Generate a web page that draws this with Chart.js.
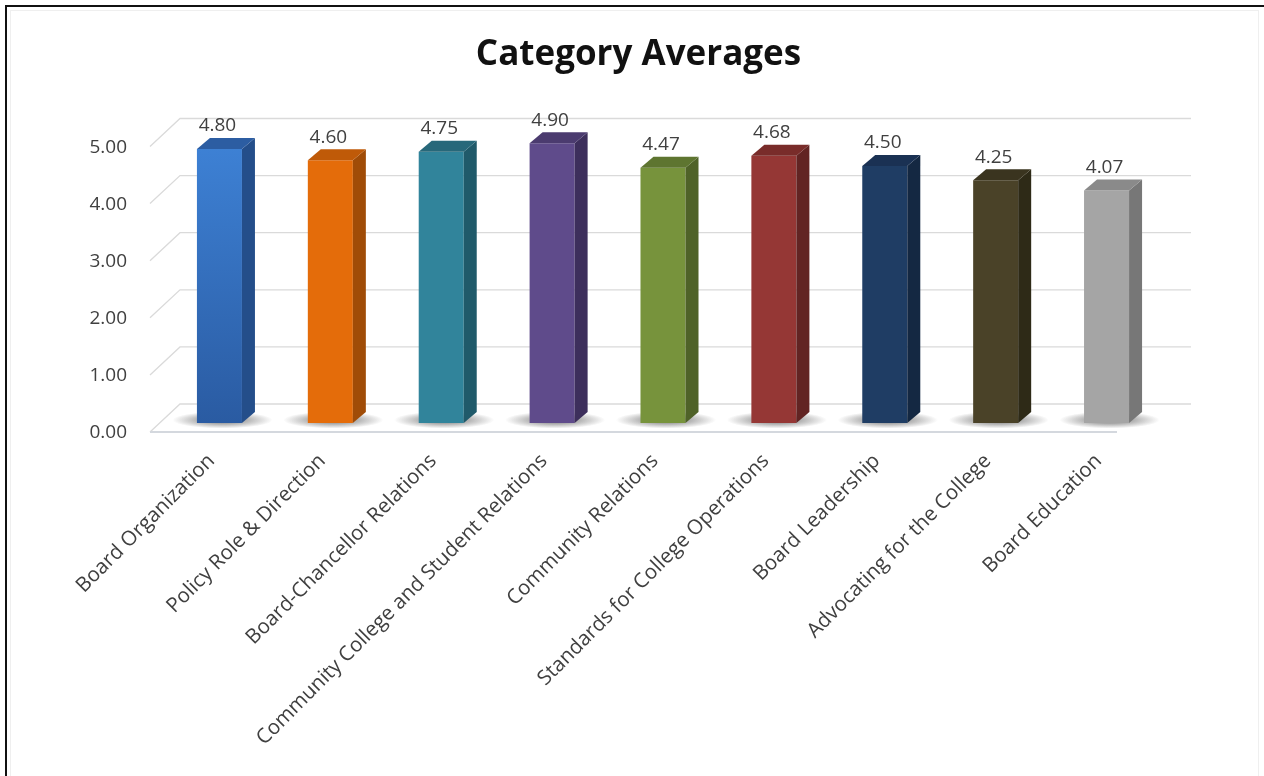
<!DOCTYPE html>
<html>
<head>
<meta charset="utf-8">
<title>Category Averages</title>
<script src="https://cdn.jsdelivr.net/npm/chart.js@4.4.1/dist/chart.umd.min.js"></script>
<style>
  html, body { margin:0; padding:0; background:#fff; overflow:hidden; }
  .frame { position:absolute; left:5px; top:5px; width:1300px; height:900px; border:2px solid #111; box-sizing:border-box; }
  .inner { position:absolute; left:10px; top:10px; width:1247px; height:900px; border:1px solid #efefef; }
  #wrap { position:absolute; left:0; top:0; width:1264px; height:776px; }
</style>
</head>
<body>
<div class="frame"></div>
<div class="inner"></div>
<div id="wrap"><canvas id="avgChart" width="1264" height="776"></canvas></div>
<script>
// ── Data ───────────────────────────────────────
const categories = [
  'Board Organization', 'Policy Role & Direction', 'Board-Chancellor Relations',
  'Community College and Student Relations', 'Community Relations',
  'Standards for College Operations', 'Board Leadership',
  'Advocating for the College', 'Board Education'
];
const averages = [4.80, 4.60, 4.75, 4.90, 4.47, 4.68, 4.50, 4.25, 4.07];
const yTicks   = [0, 1, 2, 3, 4, 5];

// ── Colours (front / side / top of each bar) ───
const frontColors = ['#3a78c9','#e46c0a','#31849b','#5f4b8b','#77933c','#953735','#1f3d64','#4a4228','#a5a5a5'];
const sideColors  = ['#244e8a','#a04c07','#205a6a','#3d2f5c','#4f6228','#622423','#142842','#2e2a17','#777777'];
const topColors   = ['#2c5da2','#bf5a08','#27687a','#4b3b6f','#5e7530','#792c2a','#1a3153','#3a341f','#8a8a8a'];

const FONT = '"Open Sans", Carlito, Calibri, sans-serif';
const TEXT = '#404040';

// ── 3D look ────────────────────────────────────
const DEPTH_X = 13, DEPTH_Y = 11;   // bar side / top depth
const WALL_X = 30, WALL_Y = 28;     // floor depth, front edge to back wall
const FRONT_DY = 9;                 // front edge sits a bit lower than the bars

const bar3d = {
  id: 'bar3d',
  beforeDatasetsDraw(chart) {
    const { ctx, chartArea: a, scales: { y } } = chart;
    ctx.save();

    // back wall gridlines + left wall diagonals
    ctx.strokeStyle = '#dadada';
    ctx.lineWidth = 1.3;
    yTicks.forEach(v => {
      const fx = a.left - 14, fy = y.getPixelForValue(v) + FRONT_DY;
      ctx.beginPath();
      ctx.moveTo(fx, fy);
      ctx.lineTo(fx + WALL_X, fy - WALL_Y);
      ctx.lineTo(a.right + 29, fy - WALL_Y);
      ctx.stroke();
    });
    // front edge of the floor
    const fy0 = y.getPixelForValue(0) + FRONT_DY;
    ctx.strokeStyle = '#d4d8de';
    ctx.lineWidth = 2;
    ctx.beginPath(); ctx.moveTo(a.left - 14, fy0); ctx.lineTo(a.right - 45, fy0); ctx.stroke();

    // y labels along the front edge
    ctx.fillStyle = TEXT;
    ctx.font = `19px ${FONT}`;
    ctx.textAlign = 'right';
    ctx.textBaseline = 'middle';
    yTicks.forEach(v => ctx.fillText(v.toFixed(2), a.left - 37, y.getPixelForValue(v) + FRONT_DY + 1));

    // soft floor shadow behind each bar
    chart.getDatasetMeta(0).data.forEach(bar => {
      ctx.save();
      ctx.translate(bar.x + 3, bar.base - 3);
      ctx.scale(1, 0.17);
      const g = ctx.createRadialGradient(0, 0, 0, 0, 0, 50);
      g.addColorStop(0, 'rgba(60,60,60,0.8)');
      g.addColorStop(0.5, 'rgba(90,90,90,0.45)');
      g.addColorStop(1, 'rgba(90,90,90,0)');
      ctx.fillStyle = g;
      ctx.beginPath(); ctx.arc(0, 0, 50, 0, Math.PI * 2); ctx.fill();
      ctx.restore();
    });
    ctx.restore();
  },
  afterDatasetsDraw(chart) {
    const { ctx } = chart;
    ctx.save();
    chart.getDatasetMeta(0).data.forEach((bar, i) => {
      const l = bar.x - bar.width / 2, r = bar.x + bar.width / 2;
      // side face
      ctx.fillStyle = sideColors[i];
      ctx.beginPath();
      ctx.moveTo(r, bar.y);
      ctx.lineTo(r + DEPTH_X, bar.y - DEPTH_Y);
      ctx.lineTo(r + DEPTH_X, bar.base - DEPTH_Y);
      ctx.lineTo(r, bar.base);
      ctx.closePath(); ctx.fill();
      // top face
      ctx.fillStyle = topColors[i];
      ctx.beginPath();
      ctx.moveTo(l, bar.y);
      ctx.lineTo(l + DEPTH_X, bar.y - DEPTH_Y);
      ctx.lineTo(r + DEPTH_X, bar.y - DEPTH_Y);
      ctx.lineTo(r, bar.y);
      ctx.closePath(); ctx.fill();
      // value label
      ctx.fillStyle = TEXT;
      ctx.font = `19px ${FONT}`;
      ctx.textAlign = 'center';
      ctx.textBaseline = 'middle';
      ctx.fillText(averages[i].toFixed(2), bar.x - 2, bar.y - DEPTH_Y - 12);
    });
    ctx.restore();
  }
};

// ── Chart ──────────────────────────────────────
const ctx = document.getElementById('avgChart').getContext('2d');

new Chart(ctx, {
  type: 'bar',
  data: {
    labels: categories,
    datasets: [{
      data: averages,
      backgroundColor: c => {
        if (c.dataIndex !== 0 || !c.chart.chartArea) return frontColors[c.dataIndex];
        const a = c.chart.chartArea;
        const g = c.chart.ctx.createLinearGradient(0, a.top, 0, a.bottom);
        g.addColorStop(0, '#3e82d6');
        g.addColorStop(1, '#2a5ba2');
        return g;
      },
      borderWidth: 0,
      barPercentage: 0.406,
      categoryPercentage: 1
    }]
  },
  options: {
    responsive: false,
    animation: false,
    devicePixelRatio: 1,
    layout: { padding: { left: 115, right: 102, top: 0, bottom: 0 } },
    plugins: {
      legend: { display: false },
      tooltip: { enabled: false },
      title: {
        display: true,
        text: 'Category Averages',
        color: '#111',
        font: { family: FONT, size: 35, weight: 'bold' },
        padding: { top: 34, bottom: 61.5 }
      }
    },
    scales: {
      x: {
        offset: true,
        grid: { display: false, drawTicks: false },
        border: { display: false },
        ticks: {
          autoSkip: false, minRotation: 45, maxRotation: 45, padding: 26, labelOffset: -8,
          color: TEXT, font: { family: FONT, size: 20.5 }
        },
        afterFit: s => { s.height = 353; s.paddingLeft = 0; s.paddingRight = 0; }
      },
      y: {
        min: 0, max: 5,
        ticks: { stepSize: 1, display: false },
        grid: { display: false, drawTicks: false },
        border: { display: false },
        afterFit: s => { s.width = 49; }
      }
    }
  },
  plugins: [bar3d]
});
</script>
</body>
</html>
